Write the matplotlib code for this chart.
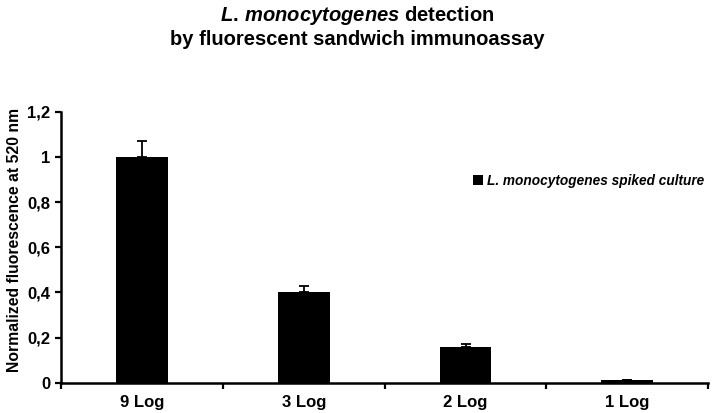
import matplotlib
matplotlib.use('Agg')
from matplotlib import pyplot as plt

# -- chart data --
categories = ['9 Log', '3 Log', '2 Log', '1 Log']
values = [1.0, 0.40, 0.158, 0.01]
errors = [0.07, 0.027, 0.012, 0.0]
yticks = [0, 0.2, 0.4, 0.6, 0.8, 1.0, 1.2]
ytick_labels = ['0', '0,2', '0,4', '0,6', '0,8', '1', '1,2']

plt.rcParams['font.family'] = ['Liberation Sans', 'DejaVu Sans']
plt.rcParams['font.weight'] = 'bold'
plt.rcParams['mathtext.fontset'] = 'custom'
plt.rcParams['mathtext.it'] = 'Liberation Sans:italic:bold'
plt.rcParams['mathtext.rm'] = 'Liberation Sans:bold'

fig = plt.figure(figsize=(7.14, 4.13), dpi=100)
ax = fig.add_axes([0.0861, 0.0734, 0.9055, 0.6561])

x = list(range(len(categories)))
ax.bar(x, values, width=0.32, color='black', label='L. monocytogenes spiked culture',
       yerr=[[0] * len(errors), errors], capsize=3.5,
       error_kw={'elinewidth': 1.3, 'capthick': 1.3, 'ecolor': 'black'})

ax.set_xlim(-0.5, len(categories) - 0.5)
ax.set_ylim(0, 1.2)
ax.set_yticks(yticks)
ax.set_yticklabels(ytick_labels, fontsize=12, fontweight='bold')
ax.set_xticks(x)
ax.set_xticklabels(categories, fontsize=12, fontweight='bold')
ax.set_xticks([i - 0.5 for i in range(len(categories) + 1)], minor=True)
ax.tick_params(axis='x', which='major', length=0, pad=9)
ax.tick_params(axis='x', which='minor', length=4, width=1.6, direction='out')
ax.tick_params(axis='y', length=4, width=1.6, direction='out', pad=4)

for side in ['top', 'right']:
    ax.spines[side].set_visible(False)
for side in ['left', 'bottom']:
    ax.spines[side].set_linewidth(1.8)

fig.text(0.5, 0.99, r'$\it{L.\,monocytogenes}$ detection' + '\nby fluorescent sandwich immunoassay',
         ha='center', va='top', fontsize=14.5, fontweight='bold', linespacing=1.2)
fig.text(0.02, 0.42, 'Normalized fluorescence at 520 nm', rotation=90,
         ha='center', va='center', fontsize=11.3, fontweight='bold')

leg = ax.legend(loc='center left', bbox_to_anchor=(0.646, 0.562), bbox_transform=fig.transFigure,
                frameon=False, handlelength=0.7, handleheight=0.7, handletextpad=0.3,
                prop={'size': 9.8, 'style': 'italic', 'weight': 'bold'})

fig.savefig('out.png', dpi=100)
